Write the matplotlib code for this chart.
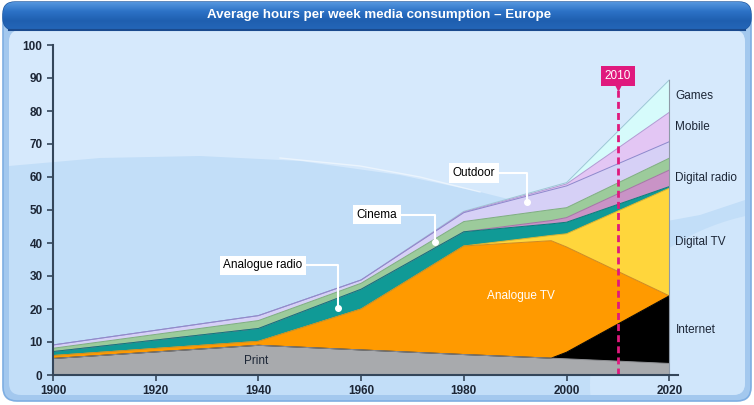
import numpy as np
import matplotlib.pyplot as plt
from matplotlib.patches import FancyBboxPatch, Ellipse, Polygon

# data (hours per week, stacked layers)
years = [1900, 1940, 1960, 1980, 1997, 2000, 2020]
print_media = [5.0, 9.0, 7.6, 6.2, 5.1, 4.9, 3.5]
internet = [0.0, 0.0, 0.0, 0.0, 0.0, 2.0, 20.5]
analogue_tv = [0.9, 1.2, 12.4, 32.9, 35.6, 31.9, 0.0]
digital_tv = [0.0, 0.0, 0.0, 0.0, 1.6, 4.0, 32.6]
analogue_radio = [1.2, 3.9, 6.0, 4.3, 3.5, 3.5, 0.5]
digital_radio = [0.0, 0.0, 0.0, 0.0, 1.0, 1.4, 5.0]
cinema = [1.0, 2.4, 1.8, 3.1, 3.3, 3.0, 3.6]
outdoor = [1.0, 1.5, 1.0, 2.7, 6.0, 6.6, 5.0]
mobile = [0.0, 0.0, 0.0, 0.2, 0.5, 0.6, 8.9]
games = [0.0, 0.0, 0.0, 0.2, 0.4, 0.4, 9.8]

layers = [print_media, internet, analogue_tv, digital_tv, analogue_radio,
          digital_radio, cinema, outdoor, mobile, games]
fills = ['#a8aaad', '#000000', '#ff9a00', '#ffd63c', '#109a96',
         '#c993c6', '#9ccb9b', '#d6d0f6', '#e3c6f4', '#d6fbfb']
edges = ['#8e8f92', '#000000', '#d08a20', '#e0b42c', '#0b7b78',
         '#a673a6', '#7fae7f', '#8d88cc', '#b39ad3', '#9ec6d6']

right_labels = {9: 'Games', 8: 'Mobile', 5: 'Digital radio', 3: 'Digital TV', 1: 'Internet'}
callouts = [('Analogue radio', 1955.5, 20.3, 1940.9, 33.3),
            ('Cinema', 1974.4, 40.3, 1963.1, 48.5),
            ('Outdoor', 1992.3, 52.4, 1982.0, 61.2)]
marker_year = 2010

txt = '#1c2636'
narrow = ['Liberation Sans Narrow', 'Liberation Sans', 'DejaVu Sans']
plt.rcParams['font.family'] = ['Liberation Sans', 'DejaVu Sans']

fig = plt.figure(figsize=(7.54, 4.05), dpi=100)
fig.patch.set_facecolor('white')

# background drawn in pixel coordinates
bg = fig.add_axes([0, 0, 1, 1])
bg.set_xlim(0, 754)
bg.set_ylim(405, 0)
bg.axis('off')

outer = FancyBboxPatch((3, 4), 748, 397, boxstyle='round,pad=0,rounding_size=14',
                       fc='#a3c8ee', ec='#7eaee2', lw=1.2)
bg.add_patch(outer)
inner = FancyBboxPatch((9, 30), 736, 365, boxstyle='round,pad=0,rounding_size=12',
                       fc='#c2def8', ec='none')
bg.add_patch(inner)

light_pts = [(9, 30), (745, 30), (745, 200), (700, 215), (640, 226), (560, 212),
             (480, 192), (400, 175), (300, 161), (200, 156), (100, 158), (9, 166)]
top_light = Polygon(light_pts, closed=True, fc='#d6e9fc', ec='none')
bg.add_patch(top_light)
top_light.set_clip_path(inner)
bg.plot([280, 360, 420, 480], [158, 166, 177, 192], color='white', alpha=0.5, lw=1)
swirl = Ellipse((800, 385), 420, 350, fc='#d0e6fb', ec='none')
bg.add_patch(swirl)
swirl.set_clip_path(inner)

# title bar with a vertical gradient
bar = FancyBboxPatch((3, 2), 748, 28, boxstyle='round,pad=0,rounding_size=12',
                     fc='#2a6fc2', ec='#1d57a0', lw=1)
bg.add_patch(bar)
grad = np.linspace(0, 1, 64).reshape(-1, 1)
cmap = plt.matplotlib.colors.LinearSegmentedColormap.from_list(
    'bar', ['#5596de', '#2c72c6', '#1f5fb0', '#2466b8'])
im = bg.imshow(grad, extent=(3, 751, 30, 2), cmap=cmap, aspect='auto', zorder=2)
im.set_clip_path(bar)
bg.plot([9, 745], [30, 30], color='#1a4a8e', lw=1.5, zorder=3)
bg.text(379, 15, 'Average hours per week media consumption \u2013 Europe', color='white',
        fontsize=9.6, fontweight='bold', ha='center', va='center', family=narrow, zorder=4)
bg.set_xlim(0, 754)
bg.set_ylim(405, 0)

# main chart
ax = fig.add_axes([53 / 754, 1 - 375 / 405, 625 / 754, 330 / 405])
ax.patch.set_alpha(0)
ax.set_xlim(1900, 2021.7)
ax.set_ylim(0, 100)

x = np.array(years)
stack = np.cumsum(np.array(layers), axis=0)
base = np.zeros(len(years))
for i, top in enumerate(stack):
    ax.fill_between(x, base, top, facecolor=fills[i], edgecolor='none', zorder=2)
    base = top
# edges drawn top-down so lower layers win where tops coincide
for i in range(len(stack) - 1, -1, -1):
    ax.plot(x, stack[i], color=edges[i], lw=0.7, zorder=3)
ax.plot([2020, 2020], [0, stack[-1][-1]], color='#8e9aa8', lw=0.8, zorder=3)

for i, name in right_labels.items():
    lo = stack[i - 1][-1] if i > 0 else 0
    mid = (lo + stack[i][-1]) / 2
    ax.text(2021.2, mid, name, fontsize=8.5, color=txt, va='center', ha='left',
            clip_on=False)

ax.text(1939.5, 4.3, 'Print', fontsize=8.5, color=txt, ha='center', va='center', zorder=5)
ax.text(1991.2, 23.9, 'Analogue TV', fontsize=8.5, color='white', ha='center',
        va='center', zorder=5)

for label, xd, yd, xt, yt in callouts:
    ax.annotate(label, xy=(xd, yd), xytext=(xt, yt), fontsize=8.5, color='black',
                ha='center', va='center', zorder=6,
                bbox=dict(boxstyle='square,pad=0.3', fc='white', ec='none'),
                arrowprops=dict(arrowstyle='-', color='white', lw=1.5, shrinkA=0, shrinkB=0,
                                connectionstyle='angle,angleA=0,angleB=90,rad=0'))
    ax.plot(xd, yd, 'o', color='white', ms=4, zorder=7)

# 2010 marker
ax.plot([marker_year, marker_year], [0, 87], color='#e0197d', lw=2,
        ls=(0, (2.5, 1.5)), zorder=5)
ax.plot(marker_year, 87.6, 'v', color='#e0197d', ms=6, zorder=6)
ax.text(marker_year, 90.6, str(marker_year), color='white', fontsize=8.5, ha='center',
        va='center', zorder=7,
        bbox=dict(boxstyle='square,pad=0.3', fc='#e0197d', ec='none'))

for s in ['top', 'right']:
    ax.spines[s].set_visible(False)
for s in ['left', 'bottom']:
    ax.spines[s].set_color('#34465a')
    ax.spines[s].set_linewidth(1.5)
    ax.spines[s].set_zorder(8)
ax.set_xticks(range(1900, 2021, 20))
ax.set_yticks(range(0, 101, 10))
ax.tick_params(colors='#34465a', labelcolor=txt, length=4, width=1.2, labelsize=8.5)
for lab in ax.get_xticklabels() + ax.get_yticklabels():
    lab.set_fontweight('bold')
    lab.set_family(narrow)

fig.savefig('out.png', dpi=100)
